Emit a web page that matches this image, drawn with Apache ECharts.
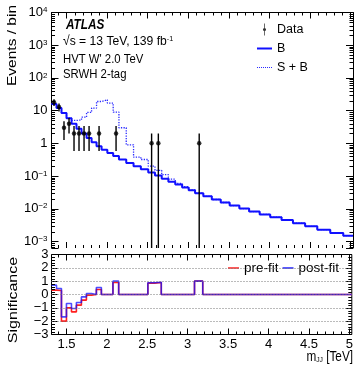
<!DOCTYPE html>
<html>
<head>
<meta charset="utf-8">
<script src="https://cdn.jsdelivr.net/npm/echarts@6/dist/echarts.min.js"></script>
<style>
html,body{margin:0;padding:0;background:#fff;}
#chart{width:356px;height:368px;}
</style>
</head>
<body>
<div id="chart"></div>
<script>
// m_JJ bin edges [TeV]
const binEdges = [1.315,1.377,1.438,1.500,1.562,1.623,1.685,1.747,1.809,1.870,1.932,2.003,2.075,2.146,2.236,2.326,2.416,2.507,2.590,2.673,2.755,2.840,2.925,3.005,3.084,3.186,3.29,3.40,3.51,3.63,3.75,3.88,4.01,4.15,4.29,4.44,4.59,4.75,4.91,5.03];

// background-only prediction, events per bin
const bkgValues = [16,12,8.5,5.8,4.0,2.8,2.0,1.45,1.08,0.82,0.64,0.51,0.41,0.32,0.25,0.20,0.16,0.128,0.103,0.083,0.067,0.055,0.045,0.037,0.030,0.024,0.0192,0.0155,0.0125,0.0101,0.0082,0.0067,0.0055,0.0045,0.0036,0.0029,0.0023,0.0018,0.0015];

// signal + background (HVT W' 2.0 TeV)
const sigBkgValues = [16,12,8.5,6.0,5.0,5.2,6.3,8.8,12,19,21.5,17,9,3.0,0.9,0.38,0.32,0.2,0.15,0.11,0.08,0.06,0.047,0.038,0.030,0.024,0.0192,0.0155,0.0125,0.0101,0.0082,0.0067,0.0055,0.0045,0.0036,0.0029,0.0023,0.0018,0.0015];

// observed counts (null = empty bin)
const dataCounts = [18,13,3,4,2,2,2,2,null,2,null,null,2,null,null,null,null,1,1,null,null,null,null,null,1,null,null,null,null,null,null,null,null,null,null,null,null,null,null];

// significance per bin
const sigPreFit  = [0.33,0.30,-2.0,-1.0,-1.3,-0.8,-0.42,-0.05,0,0.38,0,0,0.9,0,0,0,0,0.85,0.9,0,0,0,0,0,1.0,0,0,0,0,0,0,0,0,0,0,0,0,0,0];
const sigPostFit = [0.70,0.45,-1.68,-0.68,-1.05,-0.6,-0.18,0.08,0,0.52,0,0,1.0,0,0,0,0,0.88,0.92,0,0,0,0,0,1.0,0,0,0,0,0,0,0,0,0,0,0,0,0,0];

// axis ticks and labels
const xMajorTicks = [1.5,2,2.5,3,3.5,4,4.5,5];
const xTickLabels = ['1.5','2','2.5','3','3.5','4','4.5','5'];
const yLogTicks = [1e-3,1e-2,1e-1,1,10,100,1e3,1e4];
const yLogTickLabels = ['10{sup|\u22123}','10{sup|\u22122}','10{sup|\u22121}','1','10','10{sup|2}','10{sup|3}','10{sup|4}'];
const sigTicks = [-3,-2,-1,0,1,2,3];
const sigTickLabels = ['\u22123','\u22122','\u22121','0','1','2','3'];
const sigGridLines = [-2,-1,0,1,2];

const xMin = 1.315, xMax = 5.03;
const yMin = Math.pow(10,-3.2), yMax = 1e4;

const FONT = "'Liberation Sans',Arial,Helvetica,sans-serif";
const SQ = 0.84; // horizontal compression of the text blocks

// histogram as step line: value of bin i starts at its lower edge
function stepPoints(vals){
  const pts = vals.map((v,i)=>[binEdges[i], v]);
  pts.push([binEdges[binEdges.length-1], vals[vals.length-1]]);
  return pts;
}
const centers = binEdges.slice(0,-1).map((e,i)=>(e+binEdges[i+1])/2);
const dataPoints = [], dataErrors = [];
dataCounts.forEach((n,i)=>{
  if(n==null) return;
  dataPoints.push([centers[i], n]);
  dataErrors.push([centers[i], n-Math.sqrt(n), n+Math.sqrt(n)]);
});

// minor tick positions
const xMinor = [];
for(let k=14;k<=50;k++){ if(k%5!==0) xMinor.push(k/10); }
const yMinor = [];
for(let e=-4;e<=3;e++){ for(let k=2;k<=9;k++){ const v=k*Math.pow(10,e); if(v>yMin && v<yMax) yMinor.push(v);} }
const sigMinor = [];
for(let k=-15;k<=15;k++){ if(k%5!==0) sigMinor.push(k/5); }

function tickRenderer(xs, ys, yRef, xRef, lenX, lenY){
  return function(params, api){
    const cs = params.coordSys;
    const left = cs.x, right = cs.x+cs.width, top = cs.y, bottom = cs.y+cs.height;
    const children = [];
    const st = {stroke:'#000', lineWidth:1};
    xs.forEach(v=>{
      const px = Math.round(api.coord([v, yRef])[0])+0.5;
      children.push({type:'line', shape:{x1:px,y1:bottom,x2:px,y2:bottom-lenX}, style:st});
      children.push({type:'line', shape:{x1:px,y1:top,x2:px,y2:top+lenX}, style:st});
    });
    ys.forEach(v=>{
      const py = Math.round(api.coord([xRef, v])[1])+0.5;
      children.push({type:'line', shape:{x1:left,y1:py,x2:left+lenY,y2:py}, style:st});
      children.push({type:'line', shape:{x1:right,y1:py,x2:right-lenY,y2:py}, style:st});
    });
    return {type:'group', children};
  };
}

// legend glyphs
const ICON_DATA = 'path://M4.4,0H5.6V20H4.4Z M7.6,10A2.6,2.6 0 1 1 2.4,10A2.6,2.6 0 1 1 7.6,10Z';
const ICON_SOLID = 'path://M0,0H15V2H0Z';
let dots = '';
for(let i=0;i<8;i++){ dots += 'M'+(i*2)+',0H'+(i*2+1)+'V1.2H'+(i*2)+'Z'; }
const ICON_DOTTED = 'path://' + dots;
const ICON_SHORT = 'path://M0,0H11V1.6H0Z';

const chart = echarts.init(document.getElementById('chart'), null, {renderer:'canvas'});

// upper pad: frame on left, top and right only
const gridMain = {left:51.5, top:12.5, width:301.5, height:235.5, show:false};
const gridSig  = {left:51.5, top:254.5, width:301.5, height:80, show:true, borderColor:'#000', borderWidth:1, backgroundColor:'transparent'};

const LINE = {show:true, onZero:false, lineStyle:{color:'#000', width:1}};
const NOLINE = {show:false, onZero:false};

function xAxisDef(grid, pos, labels, line){
  return {
    type:'value', gridIndex:grid, position:pos, min:xMin, max:xMax,
    axisLine:line?LINE:NOLINE, splitLine:{show:false},
    axisTick:{show:true, inside:true, length:6, customValues:xMajorTicks, lineStyle:{color:'#000', width:1}},
    axisLabel:{show:labels, customValues:xMajorTicks, margin:3, color:'#000', fontSize:13, fontFamily:FONT,
      formatter:(v)=>{ const i = xMajorTicks.findIndex(t=>Math.abs(t-v)<1e-9); return i<0?'':xTickLabels[i]; }}
  };
}

const option = {
  animation:false,
  backgroundColor:'#fff',
  grid:[gridMain, gridSig],
  xAxis:[ xAxisDef(0,'bottom',false,false), xAxisDef(0,'top',false,true), xAxisDef(1,'bottom',true,false), xAxisDef(1,'top',false,false) ],
  yAxis:[
    {type:'log', logBase:10, gridIndex:0, position:'left', min:yMin, max:yMax,
     axisLine:LINE, splitLine:{show:false},
     axisTick:{show:true, inside:true, length:7, lineStyle:{color:'#000'}},
     axisLabel:{show:true, margin:4, color:'#000', fontSize:13, fontFamily:FONT,
       formatter:(v)=>{ const i = yLogTicks.findIndex(t=>Math.abs(Math.log10(t)-Math.log10(v))<1e-6); return i<0?'':yLogTickLabels[i]; },
       rich:{sup:{fontSize:8, fontFamily:FONT, verticalAlign:'top', color:'#000'}}}},
    {type:'log', logBase:10, gridIndex:0, position:'right', min:yMin, max:yMax,
     axisLine:LINE, splitLine:{show:false},
     axisTick:{show:true, inside:true, length:7, lineStyle:{color:'#000'}}, axisLabel:{show:false}},
    {type:'value', gridIndex:1, position:'left', min:-3, max:3, interval:1,
     axisLine:NOLINE, splitLine:{show:false},
     axisTick:{show:true, inside:true, length:6, lineStyle:{color:'#000'}},
     axisLabel:{show:true, margin:3, color:'#000', fontSize:13, fontFamily:FONT,
       formatter:(v)=>{ const i = sigTicks.indexOf(Math.round(v)); return i<0?'':sigTickLabels[i]; }}},
    {type:'value', gridIndex:1, position:'right', min:-3, max:3, interval:1,
     axisLine:NOLINE, splitLine:{show:false},
     axisTick:{show:true, inside:true, length:6, lineStyle:{color:'#000'}}, axisLabel:{show:false}}
  ],
  legend:[
    {orient:'vertical', left:257, top:23, padding:0, itemWidth:15, itemHeight:12, itemGap:6,
     textStyle:{fontSize:12.5, fontFamily:FONT, color:'#000'},
     data:[
       {name:'Data', icon:ICON_DATA, itemStyle:{color:'#000', borderWidth:0}},
       {name:'B', icon:ICON_SOLID, itemStyle:{color:'#1010ff', borderWidth:0}},
       {name:'S + B', icon:ICON_DOTTED, itemStyle:{color:'#2a2aff', borderWidth:0}}
     ]},
    {orient:'horizontal', left:228, top:261, padding:0, itemWidth:11, itemHeight:8, itemGap:4,
     textStyle:{fontSize:13.5, fontFamily:FONT, color:'#000'},
     data:[
       {name:'pre-fit', icon:ICON_SHORT, itemStyle:{color:'#ff3030', borderWidth:0}},
       {name:'post-fit', icon:ICON_SHORT, itemStyle:{color:'#3030ff', borderWidth:0}}
     ]}
  ],
  series:[
    {name:'S + B', type:'line', xAxisIndex:0, yAxisIndex:0, step:'end', symbol:'none', data:stepPoints(sigBkgValues),
     lineStyle:{color:'#2a2aff', width:1.3, type:[1.3,1.3]}, itemStyle:{color:'#2a2aff'}, z:3},
    {name:'B', type:'line', xAxisIndex:0, yAxisIndex:0, step:'end', symbol:'none', data:stepPoints(bkgValues),
     lineStyle:{color:'#1010ff', width:2}, itemStyle:{color:'#1010ff'}, z:4},
    {name:'Data err', type:'custom', xAxisIndex:0, yAxisIndex:0, data:dataErrors, clip:true, z:5,
     renderItem:(params, api)=>{
       const x = api.value(0);
       const lo = Math.max(api.value(1), yMin);
       const p1 = api.coord([x, lo]), p2 = api.coord([x, api.value(2)]);
       return {type:'line', shape:{x1:p1[0],y1:p1[1],x2:p2[0],y2:p2[1]}, style:{stroke:'#000', lineWidth:1.4}};
     }},
    {name:'Data', type:'scatter', xAxisIndex:0, yAxisIndex:0, data:dataPoints, symbol:'circle', symbolSize:4.5,
     itemStyle:{color:'#000'}, z:6},
    {name:'ticks main', type:'custom', xAxisIndex:0, yAxisIndex:0, data:[[0]], clip:false, silent:true, z:10,
     renderItem:tickRenderer(xMinor, yMinor, 1, 3, 3, 3.5)},
    {name:'pre-fit', type:'line', xAxisIndex:2, yAxisIndex:2, step:'end', symbol:'none', data:stepPoints(sigPreFit),
     lineStyle:{color:'#ff2020', width:1.6}, itemStyle:{color:'#ff2020'}, z:3,
     markLine:{silent:true, symbol:'none', label:{show:false}, lineStyle:{color:'#777', type:[1,2], width:1},
       data:sigGridLines.map(v=>({yAxis:v}))}},
    {name:'post-fit', type:'line', xAxisIndex:2, yAxisIndex:2, step:'end', symbol:'none', data:stepPoints(sigPostFit),
     lineStyle:{color:'#1010ff', width:1.6, opacity:0.75}, itemStyle:{color:'#1010ff'}, z:4},
    {name:'ticks sig', type:'custom', xAxisIndex:2, yAxisIndex:2, data:[[0]], clip:false, silent:true, z:10,
     renderItem:tickRenderer(xMinor, sigMinor, 0, 3, 3, 3.5)}
  ],
  graphic:[
    {type:'text', x:66, y:25, scaleX:SQ, style:{text:'ATLAS', fontSize:14, fontWeight:'bold', fontStyle:'italic', fontFamily:FONT, fill:'#000', verticalAlign:'middle'}},
    {type:'text', x:63, y:41.5, scaleX:0.9, style:{text:'\u221As = 13 TeV, 139 fb{sup|-1}', fontSize:13.5, fontFamily:FONT, fill:'#000', verticalAlign:'middle',
      rich:{sup:{fontSize:8, fontFamily:FONT, verticalAlign:'top'}}}},
    {type:'text', x:63, y:59, scaleX:SQ, style:{text:"HVT W' 2.0 TeV", fontSize:13.5, fontFamily:FONT, fill:'#000', verticalAlign:'middle'}},
    {type:'text', x:63, y:74, scaleX:SQ, style:{text:'SRWH 2-tag', fontSize:13.5, fontFamily:FONT, fill:'#000', verticalAlign:'middle'}},
    {type:'text', x:13, y:5, rotation:Math.PI/2, scaleY:0.8, style:{text:'Events / bin', fontSize:15.5, fontFamily:FONT, fill:'#000', align:'right', verticalAlign:'middle'}},
    {type:'text', x:13, y:300, rotation:Math.PI/2, scaleY:0.8, style:{text:'Significance', fontSize:16, fontFamily:FONT, fill:'#000', align:'center', verticalAlign:'middle'}},
    {type:'text', x:353, y:357, scaleX:SQ, style:{text:'m{sub|JJ} [TeV]', fontSize:14, fontFamily:FONT, fill:'#000', align:'right', verticalAlign:'middle',
      rich:{sub:{fontSize:8, fontFamily:FONT, verticalAlign:'bottom'}}}}
  ]
};
chart.setOption(option);
</script>
</body>
</html>
